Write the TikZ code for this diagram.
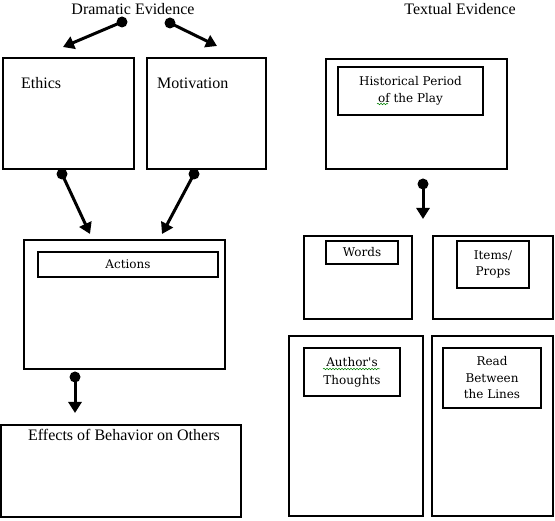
\documentclass[tikz,border=0pt]{standalone}
\usepackage{fontspec}
\setmainfont{Liberation Serif}
\newfontfamily\labfont{DejaVu Serif}
\usetikzlibrary{arrows.meta,decorations.pathmorphing}
\begin{document}
\begin{tikzpicture}[x=1pt,y=-1pt,
  box/.style={draw=black,line width=1.2pt,minimum width=#1,inner sep=0pt},
  title/.style={font=\fontsize{16}{19}\selectfont,inner sep=0pt},
  lab/.style={font=\labfont\fontsize{12}{16.5}\selectfont,align=center,inner sep=0pt},
  arr/.style={line width=3pt,-{Triangle[length=11pt,width=13pt]}},
  dotst/.style={fill=black},
  squiggle/.style={draw=green!50!black,line width=0.5pt,decorate,decoration={snake,amplitude=0.8pt,segment length=3pt}}
]
\useasboundingbox (0,0) rectangle (555,521);
% titles
\node[title] (dram) at (133,9) {Dramatic Evidence};
\node[title] (text) at (460,9) {Textual Evidence};
% left column boxes
\node[box=131pt,minimum height=111pt] (ethics) at (68.5,113.5) {};
\node[title,anchor=west] (ethicst) at (21,83) {Ethics};
\node[box=119pt,minimum height=111pt] (motiv) at (206.5,113.5) {};
\node[title,anchor=west] (motivt) at (157,83) {Motivation};
\node[box=201pt,minimum height=129pt] (actout) at (124.5,304.5) {};
\node[box=180pt,minimum height=25pt,lab] (actin) at (128,264.5) {Actions};
\node[box=240pt,minimum height=92pt] (effects) at (121,471) {};
\node[title] (effectst) at (124,435) {Effects of Behavior on Others};
% right column boxes
\node[box=181pt,minimum height=110pt] (histout) at (416.5,114) {};
\node[box=145pt,minimum height=48pt,lab] (histin) at (410.5,91) {Historical Period\\of the Play};
\node[box=108pt,minimum height=83pt] (wordsout) at (358,277.5) {};
\node[box=72pt,minimum height=23pt,lab] (wordsin) at (362,252.5) {Words};
\node[box=120pt,minimum height=83pt] (itemsout) at (493,277.5) {};
\node[box=72pt,minimum height=47pt,lab] (itemsin) at (493,264.5) {Items/\\Props};
\node[box=134pt,minimum height=180pt] (authout) at (356,426) {};
\node[box=96pt,minimum height=48pt,lab,font=\labfont\fontsize{12}{18}\selectfont] (authin) at (352,372) {Author's\\Thoughts};
\node[box=121pt,minimum height=180pt] (readout) at (492.5,426) {};
\node[box=98pt,minimum height=60pt,lab] (readin) at (492,378) {Read\\Between\\the Lines};
% connector ends
\coordinate (d1) at (122,22);  \coordinate (t1) at (63,47);
\coordinate (d2) at (170,23);  \coordinate (t2) at (217,46);
\coordinate (d3) at (62,174);  \coordinate (t3) at (90,234);
\coordinate (d4) at (194,174); \coordinate (t4) at (162,234);
\coordinate (d5) at (75,377);  \coordinate (t5) at (75,413);
\coordinate (d6) at (423,184); \coordinate (t6) at (423,219);
\foreach \i in {1,...,6}{
  \draw[arr] (d\i) -- (t\i);
  \fill[dotst] (d\i) circle (5.5pt);
}
% spell-check squiggles
\coordinate (s1a) at (377,104); \coordinate (s1b) at (388,104);
\coordinate (s2a) at (323,369); \coordinate (s2b) at (380,369);
\draw[squiggle] (s1a) -- (s1b);
\draw[squiggle] (s2a) -- (s2b);
\end{tikzpicture}
\end{document}
